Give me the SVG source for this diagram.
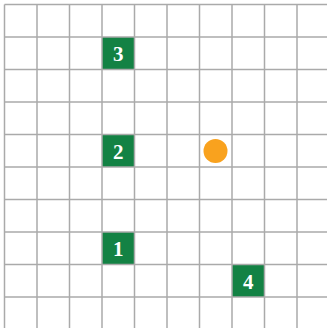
<svg xmlns="http://www.w3.org/2000/svg" width="327" height="328" viewBox="0 0 327 328">
<style>
.cell{fill:#138244}
.lbl{fill:#ffffff;font-family:"Liberation Serif","Times New Roman",serif;font-size:21px;font-weight:bold;text-anchor:middle;dominant-baseline:central}
.grid line{stroke:#aaaaaa;stroke-width:1.5}
</style>
<rect width="327" height="328" fill="#ffffff"/>
<g id="node-3"><rect class="cell" x="102" y="37" width="32.5" height="32.5"/><text class="lbl" x="118.25" y="54">3</text></g>
<g id="node-2"><rect class="cell" x="102" y="134.5" width="32.5" height="32.5"/><text class="lbl" x="118.25" y="151.5">2</text></g>
<g id="node-1"><rect class="cell" x="102" y="232" width="32.5" height="32.5"/><text class="lbl" x="118.25" y="249">1</text></g>
<g id="node-4"><rect class="cell" x="232" y="264.5" width="32.5" height="32.5"/><text class="lbl" x="248.25" y="281.5">4</text></g>
<g id="grid" class="grid">
<line x1="4.5" y1="4.5" x2="4.5" y2="328"/>
<line x1="37" y1="4.5" x2="37" y2="328"/>
<line x1="69.5" y1="4.5" x2="69.5" y2="328"/>
<line x1="102" y1="4.5" x2="102" y2="328"/>
<line x1="134.5" y1="4.5" x2="134.5" y2="328"/>
<line x1="167" y1="4.5" x2="167" y2="328"/>
<line x1="199.5" y1="4.5" x2="199.5" y2="328"/>
<line x1="232" y1="4.5" x2="232" y2="328"/>
<line x1="264.5" y1="4.5" x2="264.5" y2="328"/>
<line x1="297" y1="4.5" x2="297" y2="328"/>
<line x1="4.5" y1="4.5" x2="327" y2="4.5"/>
<line x1="4.5" y1="37" x2="327" y2="37"/>
<line x1="4.5" y1="69.5" x2="327" y2="69.5"/>
<line x1="4.5" y1="102" x2="327" y2="102"/>
<line x1="4.5" y1="134.5" x2="327" y2="134.5"/>
<line x1="4.5" y1="167" x2="327" y2="167"/>
<line x1="4.5" y1="199.5" x2="327" y2="199.5"/>
<line x1="4.5" y1="232" x2="327" y2="232"/>
<line x1="4.5" y1="264.5" x2="327" y2="264.5"/>
<line x1="4.5" y1="297" x2="327" y2="297"/>
</g>
<g id="agent"><circle cx="215.5" cy="151" r="12" fill="#F9A21E"/></g>
</svg>
